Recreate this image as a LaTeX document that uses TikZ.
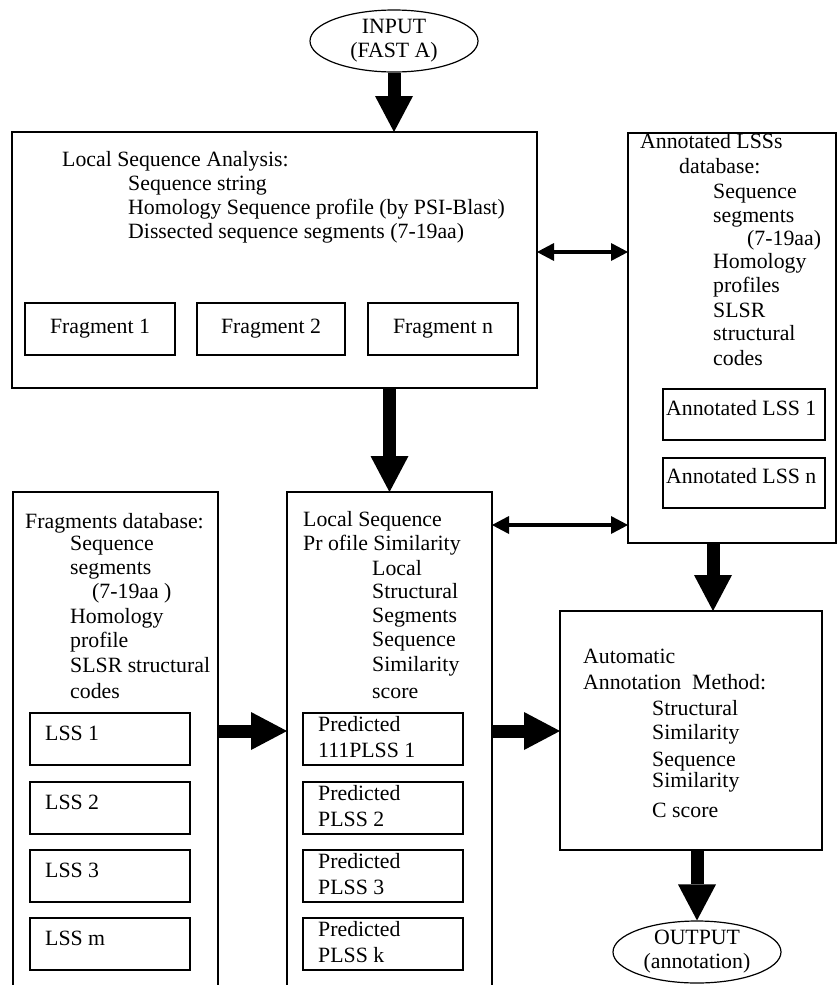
\documentclass[tikz,border=0pt]{standalone}
\usepackage{fontspec}
\setmainfont{Liberation Serif}
\usetikzlibrary{arrows.meta,shapes.geometric,calc}
\begin{document}
\begin{tikzpicture}[x=1pt,y=-1pt,
  font=\fontsize{21.8}{24}\selectfont,
  box/.style={draw,line width=1.2pt,anchor=north west,inner sep=0pt,outer sep=0pt},
  txt/.style={anchor=west,inner sep=0pt,text height=15pt,text depth=5pt},
  oval/.style={draw,ellipse,line width=1.2pt,minimum width=168pt,minimum height=62pt,inner sep=0pt,align=center},
  bigarrow/.style={line width=13pt,-{Triangle[length=36pt,width=38pt,line width=0pt]}},
  duo/.style={line width=4pt,{Triangle[length=17pt,width=18pt,line width=0pt]}-{Triangle[length=17pt,width=18pt,line width=0pt]}}
]
\useasboundingbox (0,0) rectangle (838,985);
\clip (0,0) rectangle (838,985);

% input
\node[oval] (in) at (394,41) {INPUT\\(FAST A)};

% top box
\node[box,minimum width=525pt,minimum height=256pt] (T) at (12,132) {};
\node[txt] (ta) at (62,161) {Local Sequence Analysis:};
\node[txt] (tb) at (128,185) {Sequence string};
\node[txt] (tc) at (128,209) {Homology Sequence profile (by PSI-Blast)};
\node[txt] (td) at (128,233) {Dissected sequence segments (7-19aa)};
\node[box,minimum width=150pt,minimum height=52pt] (f1) at (25,303) {Fragment 1};
\node[box,minimum width=148pt,minimum height=52pt] (f2) at (197,303) {Fragment 2};
\node[box,minimum width=150pt,minimum height=52pt] (f3) at (368,303) {Fragment n};

% right box
\node[box,minimum width=208pt,minimum height=410pt] (R) at (628,133) {};
\node[txt] (ra1) at (640,143) {Annotated LSSs};
\node[txt] (ra2) at (679,168) {database:};
\node[txt] (ra3) at (713,193) {Sequence};
\node[txt] (ra4) at (713,217) {segments};
\node[txt] (ra5) at (747,240) {(7-19aa)};
\node[txt] (ra6) at (713,263) {Homology};
\node[txt] (ra7) at (713,287) {profiles};
\node[txt] (ra8) at (713,312) {SLSR};
\node[txt] (ra9) at (713,335) {structural};
\node[txt] (ra10) at (713,360) {codes};
\node[box,minimum width=162pt,minimum height=51pt] (an1) at (663,389) {};
\node[txt] (an1t) at (666,410) {Annotated LSS 1};
\node[box,minimum width=162pt,minimum height=50pt] (ann) at (663,458) {};
\node[txt] (annt) at (666,478) {Annotated LSS n};

% left box
\node[box,minimum width=205pt,minimum height=520pt] (L) at (13,492) {};
\node[txt] (la1) at (25,523) {Fragments database:};
\node[txt] (la2) at (70,545) {Sequence};
\node[txt] (la3) at (70,569) {segments};
\node[txt] (la4) at (92,593) {(7-19aa )};
\node[txt] (la5) at (70,618) {Homology};
\node[txt] (la6) at (70,642) {profile};
\node[txt] (la7) at (70,667) {SLSR structural};
\node[txt] (la8) at (70,693) {codes};
\foreach \n/\y/\t in {1/713/LSS 1,2/782/LSS 2,3/850/LSS 3,4/918/LSS m}{
  \node[box,minimum width=160pt,minimum height=52pt] (lss\n) at (30,\y) {};
  \node[txt] (lss\n t) at ($(lss\n.north west)+(15,22)$) {\t};
}

% middle box
\node[box,minimum width=205pt,minimum height=520pt] (M) at (287,492) {};
\node[txt] (ma1) at (303,521) {Local Sequence};
\node[txt] (ma2) at (303,545) {Pr ofile Similarity};
\node[txt] (ma3) at (372,570) {Local};
\node[txt] (ma4) at (372,593) {Structural};
\node[txt] (ma5) at (372,617) {Segments};
\node[txt] (ma6) at (372,641) {Sequence};
\node[txt] (ma7) at (372,666) {Similarity};
\node[txt] (ma8) at (372,693) {score};
\foreach \n/\y/\t in {1/713/111PLSS 1,2/782/PLSS 2,3/850/PLSS 3,4/918/PLSS k}{
  \node[box,minimum width=160pt,minimum height=52pt] (pl\n) at (303,\y) {};
  \node[txt] (pl\n a) at ($(pl\n.north west)+(15,13)$) {Predicted};
  \node[txt] (pl\n b) at ($(pl\n.north west)+(15,39)$) {\t};
}

% automatic annotation box
\node[box,minimum width=262pt,minimum height=239pt] (A) at (560,611) {};
\node[txt] (aa1) at (583,658) {Automatic};
\node[txt] (aa2) at (583,684) {Annotation\ \ Method:};
\node[txt] (aa3) at (652,710) {Structural};
\node[txt] (aa4) at (652,734) {Similarity};
\node[txt] (aa5) at (652,761) {Sequence};
\node[txt] (aa6) at (652,782) {Similarity};
\node[txt] (aa7) at (652,812) {C score};

% output
\node[oval] (out) at (697,952) {OUTPUT\\(annotation)};

% connectors
\coordinate (lm) at (0,731);
\coordinate (tr) at (0,252);
\coordinate (mr) at (0,525);
\coordinate (rx) at (713,0);
\draw[bigarrow] (in.south) -- (in.south |- T.north);
\draw[bigarrow] (T.south -| M.north) -- (M.north);
\draw[bigarrow] (L.east |- lm) -- (M.west |- lm);
\draw[bigarrow] (M.east |- lm) -- (A.west |- lm);
\draw[duo] (T.east |- tr) -- (R.west |- tr);
\draw[duo] (M.east |- mr) -- (R.west |- mr);
\draw[bigarrow] (R.south -| rx) -- (A.north -| rx);
\draw[bigarrow] (A.south -| out.north) -- (out.north);
\end{tikzpicture}
\end{document}
